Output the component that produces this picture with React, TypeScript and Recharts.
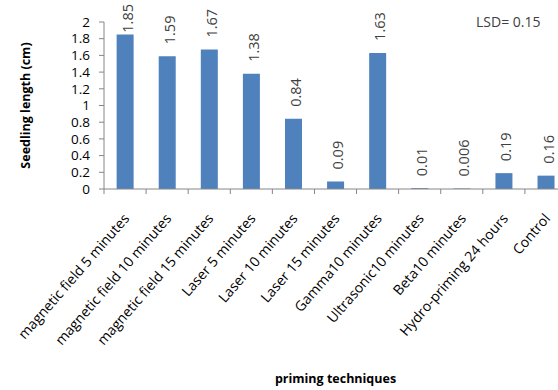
import { BarChart, Bar, XAxis, YAxis, LabelList } from "recharts";

const CATEGORIES = [
  "magnetic field 5 minutes",
  "magnetic field 10 minutes",
  "magnetic field 15 minutes",
  "Laser 5 minutes",
  "Laser 10 minutes",
  "Laser 15 minutes",
  "Gamma10 minutes",
  "Ultrasonic10 minutes",
  "Beta10 minutes",
  "Hydro-priming 24 hours",
  "Control",
];
const LENGTHS = [1.85, 1.59, 1.67, 1.38, 0.84, 0.09, 1.63, 0.01, 0.006, 0.19, 0.16];
const Y_TICKS = [0, 0.2, 0.4, 0.6, 0.8, 1, 1.2, 1.4, 1.6, 1.8, 2];

const rows = CATEGORIES.map((name, i) => ({ name, value: LENGTHS[i] }));

const FONT = "'Open Sans', sans-serif";
const AXIS = "#868686";

// rotated category labels, plus tick marks on the category boundaries
const CategoryTick = (props: any) => {
  const { x, y, payload, index, width, visibleTicksCount } = props;
  const band = width / visibleTicksCount;
  const ax = x + 5;
  const ay = y + 22;
  const top = y - 8; // axis line sits 8px above the tick origin
  return (
    <g>
      <line x1={x - band / 2} x2={x - band / 2} y1={top} y2={top + 5} stroke={AXIS} />
      {index === visibleTicksCount - 1 && (
        <line x1={x + band / 2} x2={x + band / 2} y1={top} y2={top + 5} stroke={AXIS} />
      )}
      <text
        x={ax}
        y={ay}
        transform={`rotate(-49 ${ax} ${ay})`}
        textAnchor="end"
        fontFamily={FONT}
        fontSize={14}
        fill="#000"
      >
        {payload.value}
      </text>
    </g>
  );
};

// vertical value labels above each bar, kept inside the top edge
const ValueLabel = (props: any) => {
  const { x, y, width, value } = props;
  const cx = x + width / 2;
  const text = String(value);
  const len = text.length * 7.4;
  const base = y - 12;
  const clamp = base - len < 4;
  const ly = clamp ? 4 : base;
  return (
    <text
      x={cx + 2}
      y={ly}
      transform={`rotate(-90 ${cx + 2} ${ly})`}
      textAnchor={clamp ? "end" : "start"}
      dominantBaseline="central"
      fontFamily={FONT}
      fontSize={14.5}
      fill="#404040"
    >
      {text}
    </text>
  );
};

const YTitle = (props: any) => {
  const { viewBox } = props;
  const cx = viewBox.x + 25;
  const cy = viewBox.y + viewBox.height / 2;
  return (
    <text
      x={cx}
      y={cy}
      transform={`rotate(-90 ${cx} ${cy})`}
      textAnchor="middle"
      dominantBaseline="central"
      fontFamily={FONT}
      fontWeight="bold"
      fontSize={12.5}
      fill="#000"
    >
      Seedling length (cm)
    </text>
  );
};

const XTitle = (props: any) => {
  const { viewBox } = props;
  return (
    <text
      x={viewBox.x + viewBox.width / 2}
      y={viewBox.y + viewBox.height - 12}
      textAnchor="middle"
      dominantBaseline="central"
      fontFamily={FONT}
      fontWeight="bold"
      fontSize={12.5}
      fill="#000"
    >
      priming techniques
    </text>
  );
};

export default function App() {
  return (
    <div
      style={{
        position: "absolute",
        left: 0,
        top: 0,
        width: 558,
        height: 390,
        overflow: "hidden",
        background: "#fff",
      }}
    >
      <BarChart
        width={580}
        height={390}
        data={rows}
        margin={{ top: 22, right: 13, left: 0, bottom: 0 }}
        barCategoryGap="30%"
      >
        <XAxis
          dataKey="name"
          interval={0}
          height={201}
          stroke={AXIS}
          tickLine={false}
          tickSize={0}
          tickMargin={8}
          tick={<CategoryTick />}
          label={<XTitle />}
        />
        <YAxis
          domain={[0, 2]}
          ticks={Y_TICKS}
          interval={0}
          width={104}
          stroke={AXIS}
          tickSize={5}
          tickMargin={9}
          tick={{ fontFamily: FONT, fontSize: 13.5, fill: "#000" }}
          label={<YTitle />}
        />
        <Bar dataKey="value" fill="#4F81BD" isAnimationActive={false}>
          <LabelList dataKey="value" content={<ValueLabel />} />
        </Bar>
      </BarChart>
      <div
        style={{
          position: "absolute",
          left: 476,
          top: 12,
          fontFamily: FONT,
          fontSize: 14,
          color: "#404040",
          lineHeight: "20px",
          whiteSpace: "nowrap",
        }}
      >
        LSD= 0.15
      </div>
    </div>
  );
}
